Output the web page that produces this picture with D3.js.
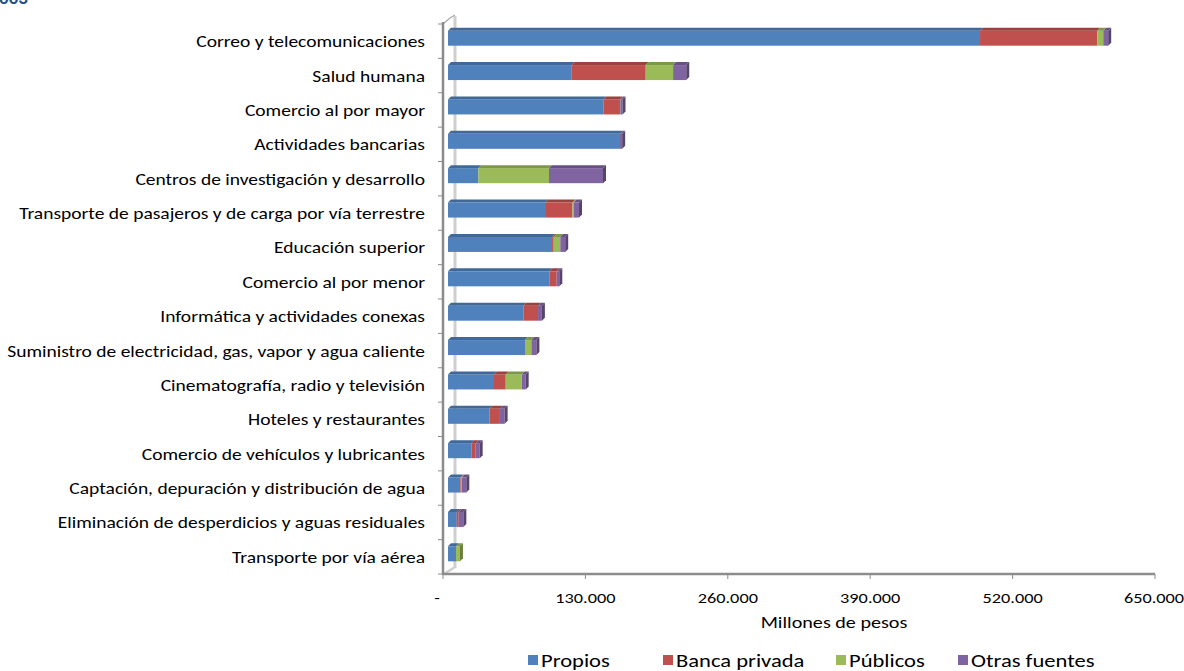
<!DOCTYPE html>
<html><head><meta charset="utf-8">
<script src="https://cdn.jsdelivr.net/npm/d3@7"></script>
<style>
html,body{margin:0;padding:0;background:#fff;overflow:hidden;}
svg{display:block;font-family:Carlito,Calibri,Lato,"Open Sans",sans-serif;}
</style></head>
<body>
<svg id="c" width="1184" height="671"></svg>
<script>
const categories = [
  "Correo y telecomunicaciones",
  "Salud humana",
  "Comercio al por mayor",
  "Actividades bancarias",
  "Centros de investigación y desarrollo",
  "Transporte de pasajeros y de carga por vía terrestre",
  "Educación superior",
  "Comercio al por menor",
  "Informática y actividades conexas",
  "Suministro de electricidad, gas, vapor y agua caliente",
  "Cinematografía, radio y televisión",
  "Hoteles y restaurantes",
  "Comercio de vehículos  y lubricantes",
  "Captación, depuración y distribución de agua",
  "Eliminación de desperdicios  y aguas residuales",
  "Transporte por vía aérea"
];
const propios      = [485700, 113000, 141800, 157000, 27700, 88600, 95000, 92500, 68800, 70300, 42000, 38000, 21300, 11200, 8000, 7300];
const bancaPrivada = [107000, 67500, 15200, 0, 0, 25000, 1500, 6700, 13400, 0, 10700, 9400, 4000, 600, 1800, 0];
const publicos     = [5500, 25000, 300, 0, 64500, 1000, 6000, 0, 0, 5800, 14600, 0, 0, 600, 0, 3600];
const otrasFuentes = [4500, 12000, 2000, 2000, 49300, 5000, 4500, 2400, 3500, 4600, 3600, 4300, 3600, 4300, 4200, 0];
const seriesNames = ["Propios", "Banca privada", "Públicos", "Otras fuentes"];
const seriesColors = ["#4F81BD", "#C0504D", "#9BBB59", "#8064A2"];
const tickValues = [0, 130000, 260000, 390000, 520000, 650000];
const tickLabels = ["-", "130.000", "260.000", "390.000", "520.000", "650.000"];
const axisTitle = "Millones de pesos";
const titleFragment = "003";

const SX = 1.22; // horizontal stretch of text, as in the reference
const svg = d3.select("#c");
const x = d3.scaleLinear().domain([0, 650000]).range([443, 1155]);
const y = d3.scaleBand().domain(categories).range([24, 574]);
const color = d3.scaleOrdinal().domain(seriesNames).range(seriesColors);

function stext(parent, px, py, str, size, anchor) {
  return parent.append("text")
    .attr("transform", `translate(${px},${py}) scale(${SX},1)`)
    .attr("text-anchor", anchor || "start").attr("font-size", size).attr("fill", "#000").text(str);
}

const rows = categories.map((c, i) => ({cat: c, Propios: propios[i], "Banca privada": bancaPrivada[i], "Públicos": publicos[i], "Otras fuentes": otrasFuentes[i]}));
const stacked = d3.stack().keys(seriesNames)(rows);

// title fragment (cut off at the top edge, as in the reference)
svg.append("text").attr("x", -1).attr("y", 4).attr("font-size", 19).attr("font-weight", "bold")
  .attr("fill", "#1F4E8C").text(titleFragment);

// back wall / floor lines
const dx = 5, dy = -3, depth = 3, h = 15;
svg.append("line").attr("x1", 455).attr("x2", 455).attr("y1", 16).attr("y2", 568)
  .attr("stroke", "#cfcfcf").attr("stroke-width", 3);
svg.append("line").attr("x1", 444).attr("y1", 574).attr("x2", 455).attr("y2", 567)
  .attr("stroke", "#cfcfcf").attr("stroke-width", 2.5);
svg.append("path").attr("d", "M443,24 L450,18 L455,15").attr("fill", "none")
  .attr("stroke", "#aaa").attr("stroke-width", 1.3);

// left axis
svg.append("line").attr("x1", 443).attr("x2", 443).attr("y1", 22).attr("y2", 575)
  .attr("stroke", "#8c8c8c").attr("stroke-width", 2.5);
const yTicks = d3.range(categories.length + 1).map(i => 24 + i * y.step());
svg.selectAll(".yt").data(yTicks).join("line").attr("x1", 438).attr("x2", 443)
  .attr("y1", d => d).attr("y2", d => d).attr("stroke", "#8c8c8c").attr("stroke-width", 1);

// bottom axis
svg.append("line").attr("x1", 442).attr("x2", 1155).attr("y1", 574).attr("y2", 574)
  .attr("stroke", "#8c8c8c").attr("stroke-width", 2.5);
svg.selectAll(".xt").data(tickValues).join("line").attr("x1", d => x(d)).attr("x2", d => x(d))
  .attr("y1", 574).attr("y2", 579).attr("stroke", "#8c8c8c").attr("stroke-width", 1);
tickValues.forEach((v, i) => {
  stext(svg, i === 0 ? x(v) - 6 : (i === tickValues.length - 1 ? x(v) - 1 : x(v)), 603, tickLabels[i], 15, "middle");
});
stext(svg, 834, 628, axisTitle, 16.5, "middle");

// category labels
categories.forEach(c => {
  stext(svg, 425, y(c) + y.bandwidth() / 2 + 6, c, 16, "end");
});

// bars
function darker(c, k) { return d3.color(c).darker(k).formatHex(); }
stacked.forEach((layer, si) => {
  const g = svg.append("g");
  layer.forEach((d, ri) => {
    const v = d[1] - d[0];
    if (v <= 0) return;
    const cy = y(categories[ri]) + y.bandwidth() / 2 + dy;
    const x0 = x(d[0]) + dx, x1 = x(d[1]) + dx;
    const top = cy - h / 2, bot = cy + h / 2;
    const col = color(seriesNames[si]);
    g.append("rect").attr("x", x0).attr("y", top).attr("width", x1 - x0).attr("height", h).attr("fill", col);
    g.append("path").attr("d", `M${x0},${top} L${x1},${top} L${x1 + depth},${top - depth} L${x0 + depth},${top - depth} Z`)
      .attr("fill", darker(col, 0.6));
    const total = d.data.Propios + d.data["Banca privada"] + d.data["Públicos"] + d.data["Otras fuentes"];
    if (Math.abs(d[1] - total) < 1e-6) {
      g.append("path").attr("d", `M${x1},${top} L${x1 + depth},${top - depth} L${x1 + depth},${bot - depth} L${x1},${bot} Z`)
        .attr("fill", darker(col, 1.1));
    }
  });
});

// legend
const legX = [528, 663, 836, 958];
seriesNames.forEach((n, i) => {
  svg.append("rect").attr("x", legX[i]).attr("y", 655).attr("width", 10).attr("height", 10).attr("fill", seriesColors[i]);
  stext(svg, legX[i] + 13, 667, n, 18.5, "start");
});
</script>
</body></html>
